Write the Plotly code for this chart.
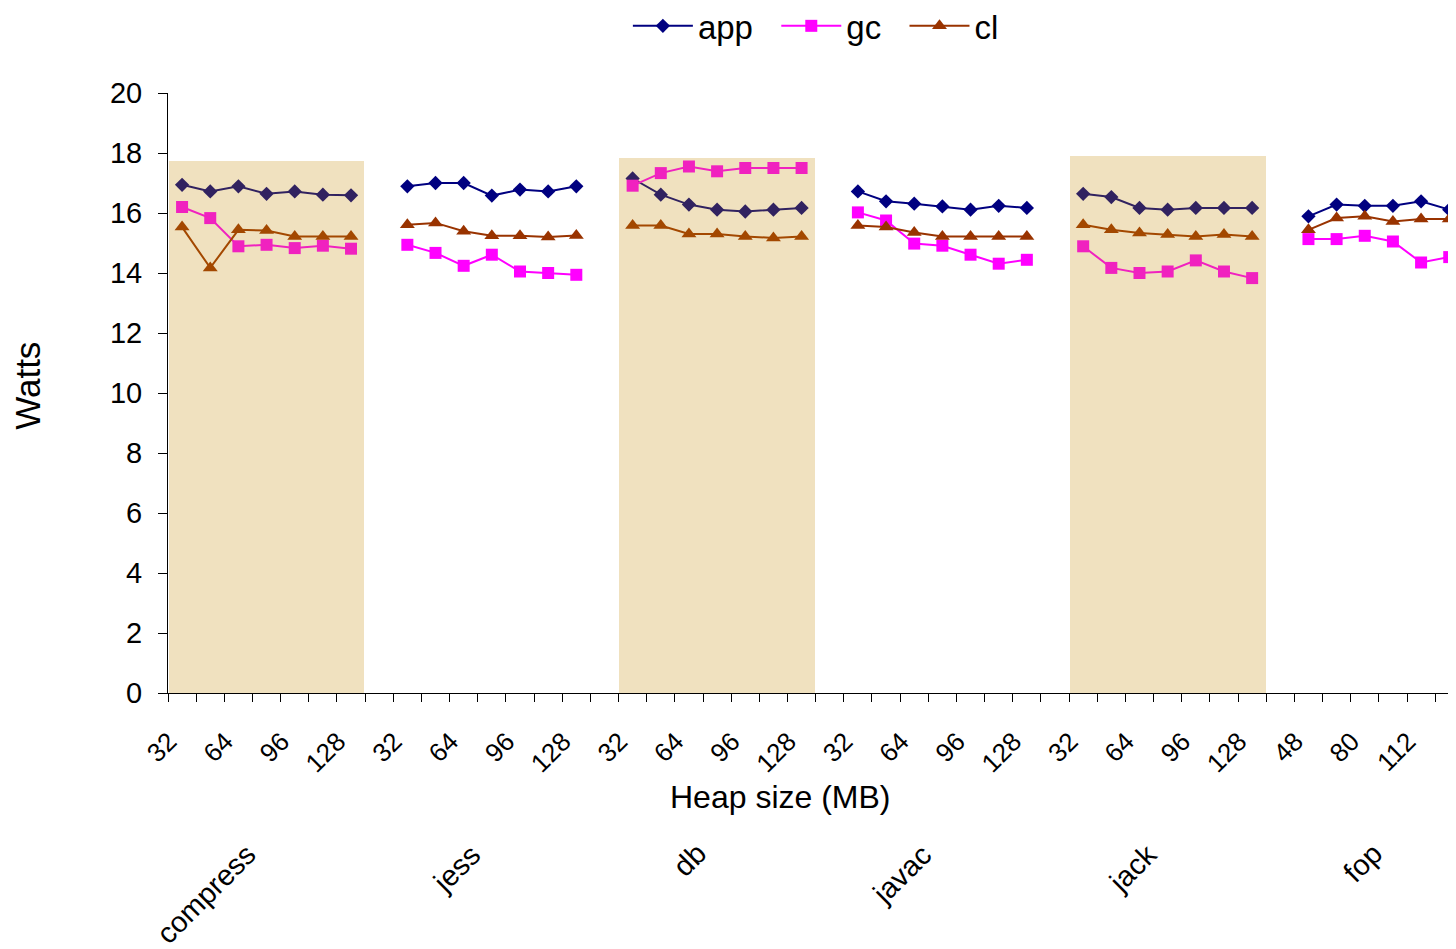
import plotly.graph_objects as go

# ---------------- data ----------------
benchmarks = ["compress", "jess", "db", "javac", "jack", "fop"]
heap_sizes = [
    [32, 48, 64, 80, 96, 112, 128],
    [32, 48, 64, 80, 96, 112, 128],
    [32, 48, 64, 80, 96, 112, 128],
    [32, 48, 64, 80, 96, 112, 128],
    [32, 48, 64, 80, 96, 112, 128],
    [48, 64, 80, 96, 112, 128],
]
app_watts = [
    [16.94, 16.72, 16.89, 16.64, 16.72, 16.61, 16.59],
    [16.89, 17.00, 17.00, 16.58, 16.78, 16.72, 16.89],
    [17.15, 16.61, 16.28, 16.11, 16.05, 16.11, 16.17],
    [16.72, 16.39, 16.31, 16.22, 16.11, 16.24, 16.17],
    [16.64, 16.53, 16.17, 16.11, 16.17, 16.17, 16.17],
    [15.89, 16.28, 16.24, 16.24, 16.39, 16.11],
]
gc_watts = [
    [16.20, 15.83, 14.89, 14.94, 14.83, 14.91, 14.81],
    [14.94, 14.67, 14.24, 14.61, 14.05, 14.00, 13.94],
    [16.91, 17.33, 17.55, 17.39, 17.50, 17.50, 17.50],
    [16.02, 15.75, 14.98, 14.91, 14.61, 14.31, 14.44],
    [14.89, 14.17, 14.00, 14.05, 14.42, 14.05, 13.83],
    [15.13, 15.13, 15.24, 15.05, 14.35, 14.53],
]
cl_watts = [
    [15.53, 14.17, 15.44, 15.42, 15.22, 15.22, 15.22],
    [15.61, 15.67, 15.39, 15.24, 15.24, 15.20, 15.25],
    [15.58, 15.58, 15.30, 15.30, 15.22, 15.17, 15.22],
    [15.58, 15.53, 15.35, 15.22, 15.22, 15.22, 15.22],
    [15.61, 15.44, 15.33, 15.28, 15.22, 15.28, 15.22],
    [15.44, 15.83, 15.89, 15.72, 15.80, 15.80],
]
shaded_benchmarks = ["compress", "db", "jack"]
shade_tops = [17.75, 17.82, 17.90]

# ---------------- layout helpers ----------------
SLOTS = 8  # 7 heap sizes + one blank slot between benchmarks
FONT = "Arial, Liberation Sans, sans-serif"
LABEL_OFFSET = -0.46  # rotated labels end slightly left of the category centre


def flatten(series):
    xs, ys = [], []
    for g, vals in enumerate(series):
        for j, v in enumerate(vals):
            xs.append(g * SLOTS + j)
            ys.append(v)
        xs.append(None)  # break line between benchmarks
        ys.append(None)
    return xs, ys


tickvals, ticktext = [], []
for g, sizes in enumerate(heap_sizes):
    for j, s in enumerate(sizes):
        if j % 2 == 0:
            tickvals.append(g * SLOTS + j + LABEL_OFFSET)
            ticktext.append(str(s))

fig = go.Figure()

series = [
    ("app", app_watts, "#000080", "diamond", 11),
    ("gc", gc_watts, "#FF00FF", "square", 12),
    ("cl", cl_watts, "#993300", "triangle-up", 13),
]
for name, data, color, symbol, size in series:
    xs, ys = flatten(data)
    fig.add_trace(go.Scatter(
        x=xs, y=ys, name=name + "\u00a0\u00a0", mode="lines+markers",
        line=dict(color=color, width=2),
        marker=dict(symbol=symbol, size=size, color=color),
        connectgaps=False,
    ))

# translucent shading over alternate benchmarks (drawn above the lines)
shade_x = [benchmarks.index(b) * SLOTS + 3 for b in shaded_benchmarks]
fig.add_trace(go.Bar(
    x=shade_x, y=shade_tops, width=[6.95] * len(shade_x),
    marker=dict(color="rgba(194,137,0,0.25)", line=dict(width=0)),
    xaxis="x2", yaxis="y2", showlegend=False, hoverinfo="skip",
))

xrange = [-0.5, 45.24]
fig.update_layout(
    width=1448, height=941,
    margin=dict(l=160, r=0, t=85, b=256, autoexpand=False),
    paper_bgcolor="white", plot_bgcolor="rgba(0,0,0,0)",
    font=dict(family=FONT, color="black"),
    showlegend=True,
    legend=dict(
        orientation="h", x=0.51, xanchor="center",
        yref="container", y=0.981, yanchor="middle",
        font=dict(size=33, family=FONT), itemwidth=60,
        bgcolor="rgba(0,0,0,0)",
    ),
    xaxis=dict(
        range=xrange, showgrid=False, zeroline=False, automargin=False,
        showline=True, linecolor="black", linewidth=1,
        tickmode="array", tickvals=tickvals, ticktext=ticktext,
        ticks="", tickangle=-45, tickfont=dict(size=26, family=FONT),
        ticklabelstandoff=22,
        minor=dict(tick0=-0.5, dtick=1, ticks="outside", ticklen=8,
                   tickcolor="black", tickwidth=1, showgrid=False),
    ),
    yaxis=dict(
        range=[0, 20], dtick=2, showgrid=False, zeroline=False, automargin=False,
        showline=True, linecolor="black", linewidth=1,
        ticks="outside", ticklen=9, tickcolor="black",
        tickfont=dict(size=29, family=FONT),
        ticklabelstandoff=10,
    ),
    xaxis2=dict(range=xrange, overlaying="x", visible=False),
    yaxis2=dict(range=[0, 20], overlaying="y", visible=False),
    bargap=0,
)

annotations = [
    dict(text="Heap size (MB)", xref="paper", yref="paper",
         x=(772 - 160) / 1288, y=0, yshift=-104, xanchor="center", yanchor="middle",
         showarrow=False, font=dict(size=32, family=FONT)),
    dict(text="Watts", xref="paper", yref="paper", x=0, xshift=-140,
         y=0.512, textangle=-90, xanchor="center", yanchor="middle",
         showarrow=False, font=dict(size=35, family=FONT)),
]
for g, b in enumerate(benchmarks):
    annotations.append(dict(
        text=b, xref="x", yref="paper", x=g * SLOTS + 3, y=0,
        xanchor="right", yanchor="top", xshift=-2, yshift=-142,
        textangle=-45, showarrow=False, font=dict(size=29, family=FONT),
    ))
fig.update_layout(annotations=annotations)

fig.write_html("out.html")
